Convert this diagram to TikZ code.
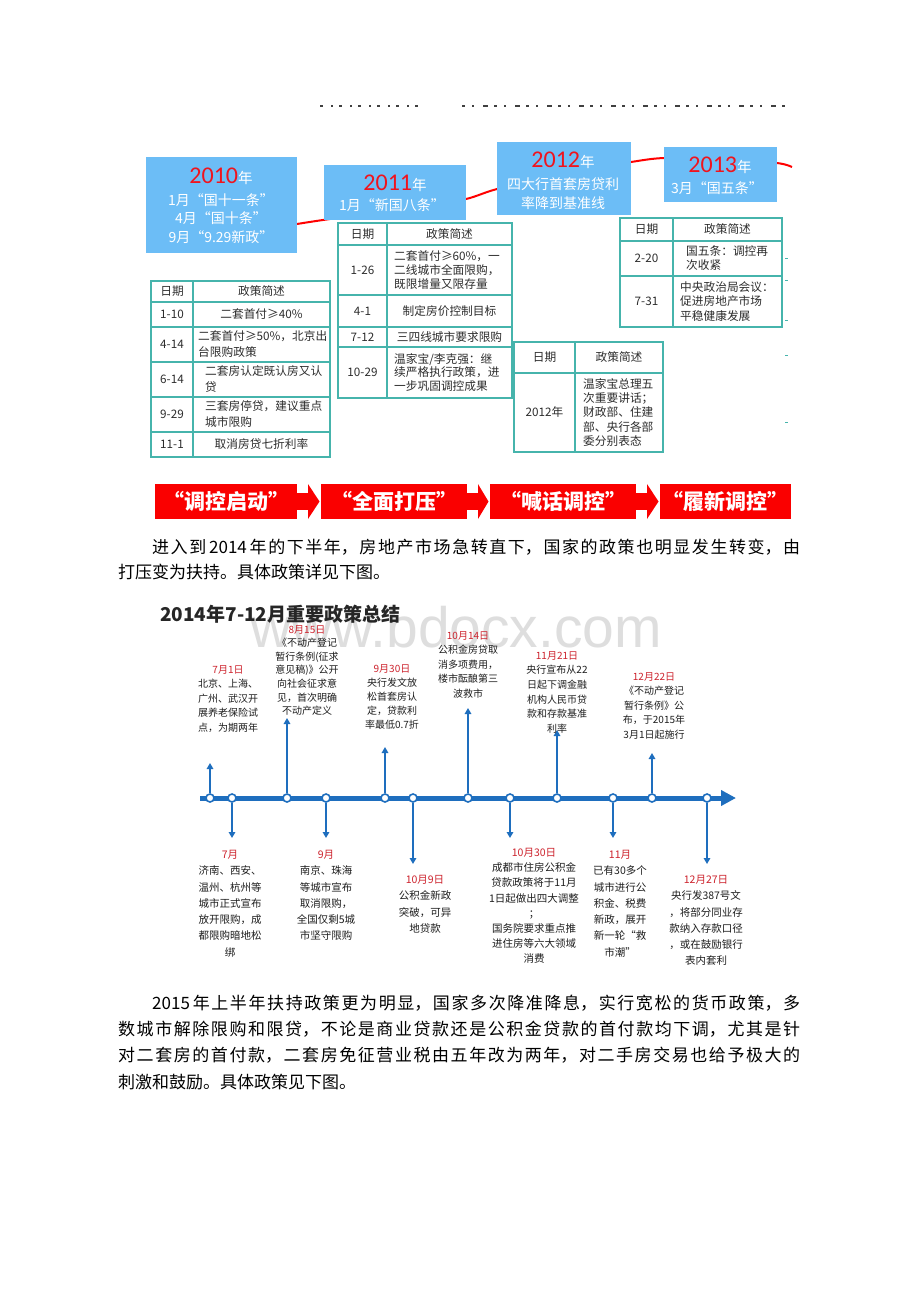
\documentclass[tikz,border=0pt]{standalone}
\usepackage{fontspec}
\usetikzlibrary{arrows.meta}
\setmainfont{Noto Sans CJK SC}
\newfontfamily\song{Noto Sans CJK SC}
\newfontfamily\wmfont{Liberation Sans}
\newfontfamily\calfont{Carlito}
\XeTeXlinebreaklocale "zh"
\XeTeXlinebreakskip=0pt plus 4pt
\definecolor{boxblue}{RGB}{108,189,246}
\definecolor{yred}{RGB}{240,20,30}
\definecolor{tblteal}{RGB}{70,180,172}
\definecolor{txtgray}{RGB}{45,45,45}
\definecolor{tlblue}{RGB}{30,110,190}
\definecolor{lred}{RGB}{205,35,45}
\definecolor{bred}{RGB}{250,0,0}
\definecolor{lblack}{RGB}{30,30,30}
\begin{document}
\begin{tikzpicture}[x=1pt,y=-1pt,
  tbl/.style={draw=tblteal, line width=1.1pt},
  tt/.style={inner sep=0pt, text=txtgray, font=\fontsize{11.7}{14.5}\selectfont, align=center},
  ttl/.style={tt, anchor=west, align=left},
  yearbox/.style={fill=boxblue, draw=none, inner sep=0pt, rectangle},
  ytxt/.style={inner sep=0pt, text=white},
  btxt/.style={inner sep=0pt, text=white, font=\fontsize{14}{18}\selectfont},
  bantxt/.style={inner sep=0pt, text=white, font=\bfseries\fontsize{21}{21}\selectfont},
  lbl/.style={inner sep=0pt, align=center, text=lblack, anchor=north, font=\fontsize{10}{14.5}\selectfont},
  lbld/.style={inner sep=0pt, align=center, text=lblack, anchor=north, font=\fontsize{10.5}{16.3}\selectfont},
  varrow/.style={draw=tlblue, line width=2pt, -{Triangle[length=6pt,width=6.5pt]}},
  tdot/.style={circle, fill=white, draw=tlblue, line width=1.6pt, minimum size=8pt, inner sep=0pt},
  para/.style={inner sep=0pt, anchor=base west, text=black}
]
\useasboundingbox (0,0) rectangle (920,1302);
\fill[white] (0,0) rectangle (920,1302);

% faint title remnants
\draw[black!75, line width=1.6pt, dash pattern=on 3pt off 8pt on 2pt off 6pt] (320,106) -- (421,106);
\draw[black!75, line width=1.6pt, dash pattern=on 3pt off 7pt on 2pt off 9pt on 5pt off 6pt] (462,106) -- (790,106);

% red trend curve
\draw[red, line width=2pt] plot[smooth] coordinates {(297,224) (330,219) (420,207) (466,199) (497,189) (560,174) (631,162) (664,158) (720,158) (777,163) (792,167)};

% year boxes
\node[yearbox, minimum width=151pt, minimum height=96pt] (b2010) at (221.5,205) {};
\node[yearbox, minimum width=142pt, minimum height=55pt] (b2011) at (395,192.5) {};
\node[yearbox, minimum width=134pt, minimum height=73pt] (b2012) at (564,178.5) {};
\node[yearbox, minimum width=113pt, minimum height=55pt] (b2013) at (720.5,174.5) {};

\node[ytxt] (t2010) at (221,176) {{\color{yred}\calfont\fontsize{24}{24}\selectfont 2010}{\fontsize{14.5}{14.5}\selectfont 年}};
\node[btxt] (t2010a) at (221,200) {1月“国十一条”};
\node[btxt] (t2010b) at (221,218) {4月“国十条”};
\node[btxt] (t2010c) at (221,237) {9月“9.29新政”};
\node[ytxt] (t2011) at (395,183) {{\color{yred}\calfont\fontsize{24}{24}\selectfont 2011}{\fontsize{14.5}{14.5}\selectfont 年}};
\node[btxt] (t2011a) at (392,205) {1月“新国八条”};
\node[ytxt] (t2012) at (563,160) {{\color{yred}\calfont\fontsize{24}{24}\selectfont 2012}{\fontsize{14.5}{14.5}\selectfont 年}};
\node[btxt] (t2012a) at (563,184) {四大行首套房贷利};
\node[btxt] (t2012b) at (563,203) {率降到基准线};
\node[ytxt] (t2013) at (720,165) {{\color{yred}\calfont\fontsize{24}{24}\selectfont 2013}{\fontsize{14.5}{14.5}\selectfont 年}};
\node[btxt] (t2013a) at (717,188) {3月“国五条”};

% Table 1
\draw[tbl] (151,281) rectangle (330,457);
\draw[tbl] (193,281) -- (193,457);
\foreach \y in {302,327,362,397,432} \draw[tbl] (151,\y) -- (330,\y);
\node[tt] (t1h1) at (172,291.5) {日期};
\node[tt] (t1h2) at (261.5,291.5) {政策简述};
\node[tt] (t1r1a) at (172,314.5) {1-10};
\node[tt] (t1r1b) at (261.5,314.5) {二套首付≥40\%};
\node[tt] (t1r2a) at (172,344.5) {4-14};
\node[ttl, font=\fontsize{11.7}{16}\selectfont] (t1r2b) at (198,344.5) {二套首付≥50\%，北京出\\台限购政策};
\node[tt] (t1r3a) at (172,379.5) {6-14};
\node[ttl, font=\fontsize{11.7}{16}\selectfont] (t1r3b) at (205,379.5) {二套房认定既认房又认\\贷};
\node[tt] (t1r4a) at (172,414.5) {9-29};
\node[ttl, font=\fontsize{11.7}{16}\selectfont] (t1r4b) at (205,414.5) {三套房停贷，建议重点\\城市限购};
\node[tt] (t1r5a) at (172,444.5) {11-1};
\node[tt] (t1r5b) at (261.5,444.5) {取消房贷七折利率};

% Table 2
\draw[tbl] (338,223) rectangle (512,398);
\draw[tbl] (387,223) -- (387,398);
\foreach \y in {245,295,327,347} \draw[tbl] (338,\y) -- (512,\y);
\node[tt] (t2h1) at (362.5,234) {日期};
\node[tt] (t2h2) at (449.5,234) {政策简述};
\node[tt] (t2r1a) at (362.5,270) {1-26};
\node[ttl, font=\fontsize{11.7}{13.6}\selectfont] (t2r1b) at (394,270) {二套首付≥60\%，一\\二线城市全面限购，\\既限增量又限存量};
\node[tt] (t2r2a) at (362.5,311) {4-1};
\node[tt] (t2r2b) at (449.5,311) {制定房价控制目标};
\node[tt] (t2r3a) at (362.5,337) {7-12};
\node[tt] (t2r3b) at (449.5,337) {三四线城市要求限购};
\node[tt] (t2r4a) at (362.5,372.5) {10-29};
\node[ttl, font=\fontsize{11.7}{13.6}\selectfont] (t2r4b) at (394,372.5) {温家宝/李克强：继\\续严格执行政策，进\\一步巩固调控成果};

% Table 3
\draw[tbl] (514,342) rectangle (663,452);
\draw[tbl] (575,342) -- (575,452);
\draw[tbl] (514,373) -- (663,373);
\node[tt] (t3h1) at (544.5,357.5) {日期};
\node[tt] (t3h2) at (619,357.5) {政策简述};
\node[tt] (t3r1a) at (544.5,412.5) {2012年};
\node[ttl, font=\fontsize{11.7}{14.3}\selectfont] (t3r1b) at (583,412.5) {温家宝总理五\\次重要讲话；\\财政部、住建\\部、央行各部\\委分别表态};

% Table 4
\draw[tbl] (620,218) rectangle (782,327);
\draw[tbl] (673,218) -- (673,327);
\foreach \y in {241,276} \draw[tbl] (620,\y) -- (782,\y);
\node[tt] (t4h1) at (646.5,229.5) {日期};
\node[tt] (t4h2) at (727.5,229.5) {政策简述};
\node[tt] (t4r1a) at (646.5,258.5) {2-20};
\node[ttl, font=\fontsize{11.7}{14}\selectfont] (t4r1b) at (686,258.5) {国五条：调控再\\次收紧};
\node[tt] (t4r2a) at (646.5,301.5) {7-31};
\node[ttl, font=\fontsize{11.7}{14.3}\selectfont] (t4r2b) at (680,301.5) {中央政治局会议：\\促进房地产市场\\平稳健康发展};
\foreach \y in {258,280,320,355,422} \draw[tblteal, line width=1pt] (785,\y) -- (788,\y);

% banner
\fill[bred] (155,484) rectangle (297,519);
\fill[bred] (321,484) rectangle (467,519);
\fill[bred] (490,484) rectangle (636,519);
\fill[bred] (660,484) rectangle (791,519);
\foreach \a/\b in {297/321, 467/490, 636/660} {
  \fill[bred] (\a,493) rectangle (\a+11,510);
  \fill[bred] (\a+11,484) -- (\b-1.5,501.5) -- (\a+11,519) -- cycle;
}
\node[bantxt] (bn1) at (226,501.5) {“调控启动”};
\node[bantxt] (bn2) at (394,501.5) {“全面打压”};
\node[bantxt] (bn3) at (563,501.5) {“喊话调控”};
\node[bantxt] (bn4) at (725.5,501.5) {“履新调控”};

% paragraph 1
\node[para] (p1) at (118,553.5) {\parbox[t]{682pt}{\song\fontsize{17}{25}\selectfont\hspace*{34pt}进入到\,2014\,年的下半年，房地产市场急转直下，国家的政策也明显发生转变，由\linebreak 打压变为扶持。具体政策详见下图。}};

% watermark
\node[inner sep=0pt, anchor=base west, text=black!13, font=\wmfont\fontsize{57}{57}\selectfont] (wm) at (250,647) {www.bdocx.com};

% chart title
\node[inner sep=0pt, anchor=west, text=black!85, font=\bfseries\fontsize{19}{19}\selectfont] (ctitle) at (160,614) {2014年7-12月重要政策总结};

% timeline
\coordinate (tl0) at (200,798);
\coordinate (tl1) at (736,798);
\draw[tlblue, line width=5pt, -{Triangle[length=15pt,width=15pt]}] (tl0) -- (tl1);
\foreach \i/\x in {1/210,2/232,3/287,4/326,5/385,6/413,7/468,8/510,9/557,10/613,11/652,12/707}
  \node[tdot] (d\i) at (\x,798) {};
\coordinate (u1) at (210,763);
\coordinate (u3) at (287,718);
\coordinate (u5) at (385,747);
\coordinate (u7) at (468,708);
\coordinate (u9) at (557,730);
\coordinate (u11) at (652,753);
\coordinate (w2) at (232,838);
\coordinate (w4) at (326,838);
\coordinate (w6) at (413,864);
\coordinate (w8) at (510,838);
\coordinate (w10) at (613,838);
\coordinate (w12) at (707,864);
\foreach \i in {1,3,5,7,9,11} \draw[varrow] (d\i) -- (u\i);
\foreach \i in {2,4,6,8,10,12} \draw[varrow] (d\i) -- (w\i);

% upper labels
\node[lbl] (l1) at (228,665) {\textcolor{lred}{7月1日}\\北京、上海、\\广州、武汉开\\展养老保险试\\点，为期两年};
\node[lbl, font=\fontsize{10}{13.6}\selectfont] (l3) at (307,625) {\textcolor{lred}{8月15日}\\《不动产登记\\暂行条例(征求\\意见稿)》公开\\向社会征求意\\见，首次明确\\不动产定义};
\node[lbl, font=\fontsize{10}{14.2}\selectfont] (l5) at (392,664) {\textcolor{lred}{9月30日}\\央行发文放\\松首套房认\\定，贷款利\\率最低0.7折};
\node[lbl, font=\fontsize{10}{14.5}\selectfont] (l7) at (468,631) {\textcolor{lred}{10月14日}\\公积金房贷取\\消多项费用，\\楼市酝酿第三\\波救市};
\node[lbl, font=\fontsize{10}{14.7}\selectfont] (l9) at (557,651) {\textcolor{lred}{11月21日}\\央行宣布从22\\日起下调金融\\机构人民币贷\\款和存款基准\\利率};
\node[lbl, font=\fontsize{10}{14.5}\selectfont] (l11) at (654,672) {\textcolor{lred}{12月22日}\\《不动产登记\\暂行条例》公\\布，于2015年\\3月1日起施行};

% lower labels
\node[lbld] (l2) at (230,850) {\textcolor{lred}{7月}\\济南、西安、\\温州、杭州等\\城市正式宣布\\放开限购，成\\都限购暗地松\\绑};
\node[lbld] (l4) at (326,850) {\textcolor{lred}{9月}\\南京、珠海\\等城市宣布\\取消限购，\\全国仅剩5城\\市坚守限购};
\node[lbld] (l6) at (425,875) {\textcolor{lred}{10月9日}\\公积金新政\\突破，可异\\地贷款};
\node[lbld, font=\fontsize{10.5}{15.2}\selectfont] (l8) at (534,848) {\textcolor{lred}{10月30日}\\成都市住房公积金\\贷款政策将于11月\\1日起做出四大调整\\；\\国务院要求重点推\\进住房等六大领域\\消费};
\node[lbld] (l10) at (620,850) {\textcolor{lred}{11月}\\已有30多个\\城市进行公\\积金、税费\\新政，展开\\新一轮“救\\市潮”};
\node[lbld] (l12) at (706,875) {\textcolor{lred}{12月27日}\\央行发387号文\\，将部分同业存\\款纳入存款口径\\，或在鼓励银行\\表内套利};

% paragraph 2
\node[para] (p2) at (118,1009.5) {\parbox[t]{682pt}{\song\fontsize{17}{26.2}\selectfont\hspace*{34pt}2015\,年上半年扶持政策更为明显，国家多次降准降息，实行宽松的货币政策，多\linebreak 数城市解除限购和限贷，不论是商业贷款还是公积金贷款的首付款均下调，尤其是针\linebreak 对二套房的首付款，二套房免征营业税由五年改为两年，对二手房交易也给予极大的\linebreak 刺激和鼓励。具体政策见下图。}};
\end{tikzpicture}
\end{document}
